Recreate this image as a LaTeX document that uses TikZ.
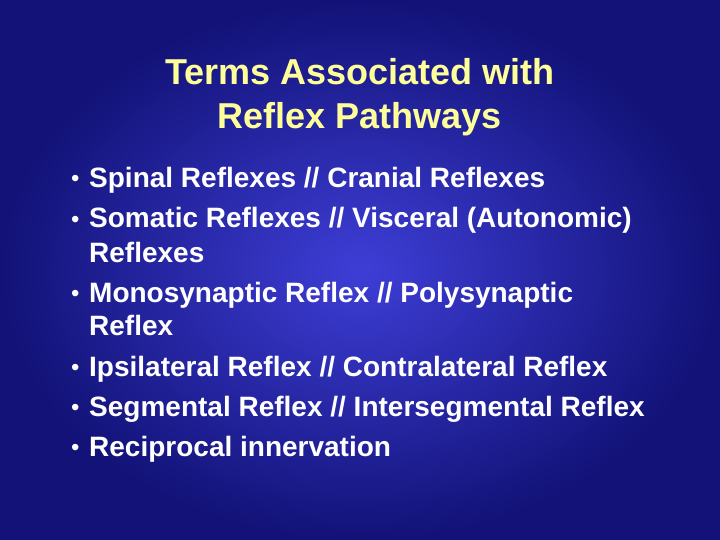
\documentclass[tikz,border=0pt]{standalone}
\usepackage{fontspec}
\setmainfont{Liberation Sans}
\definecolor{bgin}{RGB}{62,62,215}
\definecolor{bgout}{RGB}{18,18,120}
\definecolor{ttl}{RGB}{255,255,153}
\begin{document}
\begin{tikzpicture}[x=1pt,y=-1pt,
  title/.style={text=ttl,font=\bfseries\fontsize{36}{40}\selectfont,anchor=base},
  item/.style={text=white,font=\bfseries\fontsize{28}{32}\selectfont,anchor=base west,inner sep=0pt},
  dot/.style={text=white,font=\fontsize{24}{28}\selectfont,anchor=base west,inner sep=0pt}]
\useasboundingbox (0,0) rectangle (720,540);
\shade[inner color=bgin,outer color=bgout] (0,0) rectangle (720,540);
\node[title] (t1) at (360,85) {Terms Associated with};
\node[title] (t2) at (360,129) {Reflex Pathways};
\foreach \n/\y/\b/\t in {
 a/188/1/{Spinal Reflexes // Cranial Reflexes},
 b/228/1/{Somatic Reflexes // Visceral (Autonomic)},
 c/262/0/{Reflexes},
 d/302/1/{Monosynaptic Reflex // Polysynaptic},
 e/335/0/{Reflex},
 f/376/1/{Ipsilateral Reflex // Contralateral Reflex},
 g/416/1/{Segmental Reflex // Intersegmental Reflex},
 h/456/1/{Reciprocal innervation}}{
 \node[item] (i\n) at (89,\y) {\t};
 \ifnum\b=1 \node[dot] (d\n) at (71,\y-1) {•};\fi
}
\end{tikzpicture}
\end{document}
